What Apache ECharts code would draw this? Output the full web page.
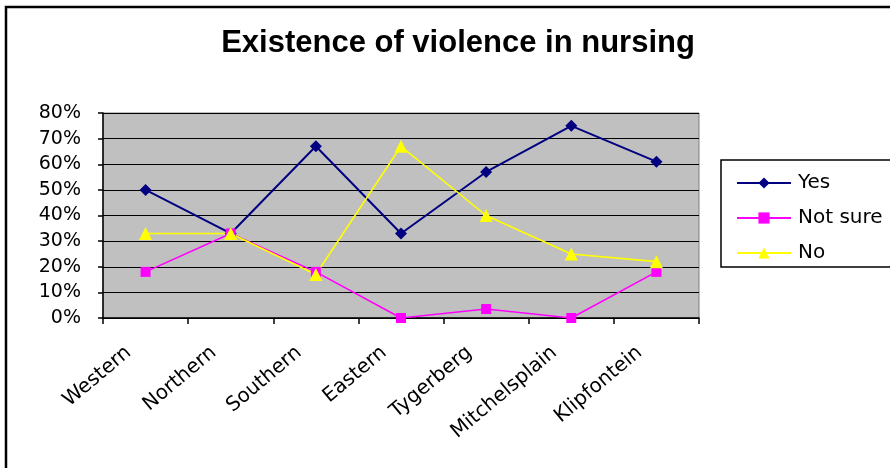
<!DOCTYPE html>
<html>
<head>
<meta charset="utf-8">
<script src="https://cdn.jsdelivr.net/npm/echarts@6/dist/echarts.min.js"></script>
<style>
html,body{margin:0;padding:0;background:#fff;}
#chart{width:890px;height:468px;}
</style>
</head>
<body>
<div id="chart"></div>
<script>
const titleText = 'Existence of violence in nursing';
const categories = ['Western','Northern','Southern','Eastern','Tygerberg','Mitchelsplain','Klipfontein'];
const yesValues = [0.50, 0.33, 0.67, 0.33, 0.57, 0.75, 0.61];
const notSureValues = [0.18, 0.33, 0.18, 0.00, 0.035, 0.00, 0.18];
const noValues = [0.33, 0.33, 0.17, 0.67, 0.40, 0.25, 0.22];
const seriesNames = ['Yes', 'Not sure', 'No'];
const yTickLabels = ['0%','10%','20%','30%','40%','50%','60%','70%','80%'];

const chart = echarts.init(document.getElementById('chart'), null, {renderer: 'canvas'});
const font = 'DejaVu Sans';
chart.setOption({
  animation: false,
  backgroundColor: '#ffffff',
  title: {
    text: titleText,
    left: 453,
    top: 23,
    textAlign: 'center',
    textStyle: {fontFamily: 'Liberation Sans, Arial', fontWeight: 'bold', fontSize: 31, color: '#000'}
  },
  graphic: [
    {type: 'rect', z: -1, shape: {x: 6, y: 7, width: 1000, height: 1000}, style: {fill: 'none', stroke: '#000', lineWidth: 2.5}},
    {type: 'rect', z: 1, shape: {x: 721, y: 160, width: 300, height: 107}, style: {fill: '#fff', stroke: '#000', lineWidth: 1.5}}
  ],
  legend: {
    orient: 'vertical',
    left: 731,
    top: 168,
    itemWidth: 54,
    itemHeight: 14,
    itemGap: 15,
    zlevel: 0, z: 5,
    textStyle: {fontFamily: font, fontSize: 20, color: '#000', padding: [0,0,0,2]},
    data: seriesNames
  },
  grid: {left: 103, right: 191, top: 113, bottom: 150, show: true, backgroundColor: '#c0c0c0', borderColor: '#808080', borderWidth: 1},
  xAxis: {
    type: 'category',
    data: categories,
    boundaryGap: true,
    axisLine: {lineStyle: {color: '#000', width: 1.5}},
    axisTick: {show: true, length: 6, lineStyle: {color: '#000', width: 1.5}},
    axisLabel: {rotate: 40, margin: 18, color: '#000', fontFamily: font, fontSize: 20, interval: 0,
      padding: [0, 22, 0, 0]}
  },
  yAxis: {
    type: 'value',
    min: 0, max: 0.8, interval: 0.1,
    axisLine: {show: true, lineStyle: {color: '#000', width: 1.5}},
    axisTick: {show: true, length: 5, lineStyle: {color: '#000', width: 1.5}},
    splitLine: {show: true, lineStyle: {color: '#000', width: 1.2}},
    axisLabel: {color: '#000', fontFamily: font, fontSize: 19, margin: 22,
      formatter: function (v) { return yTickLabels[Math.round(v * 10)]; }}
  },
  series: [
    {name: seriesNames[0], type: 'line', data: yesValues, color: '#000080', symbol: 'diamond', symbolSize: 12,
      lineStyle: {width: 2, color: '#000080'}, itemStyle: {color: '#000080'}},
    {name: seriesNames[1], type: 'line', data: notSureValues, color: '#ff00ff', symbol: 'rect', symbolSize: 10,
      lineStyle: {width: 1.6, color: '#ff00ff'}, itemStyle: {color: '#ff00ff'}},
    {name: seriesNames[2], type: 'line', data: noValues, color: '#ffff00', symbol: 'triangle', symbolSize: 13,
      lineStyle: {width: 1.6, color: '#ffff00'}, itemStyle: {color: '#ffff00'}}
  ]
});
</script>
</body>
</html>
